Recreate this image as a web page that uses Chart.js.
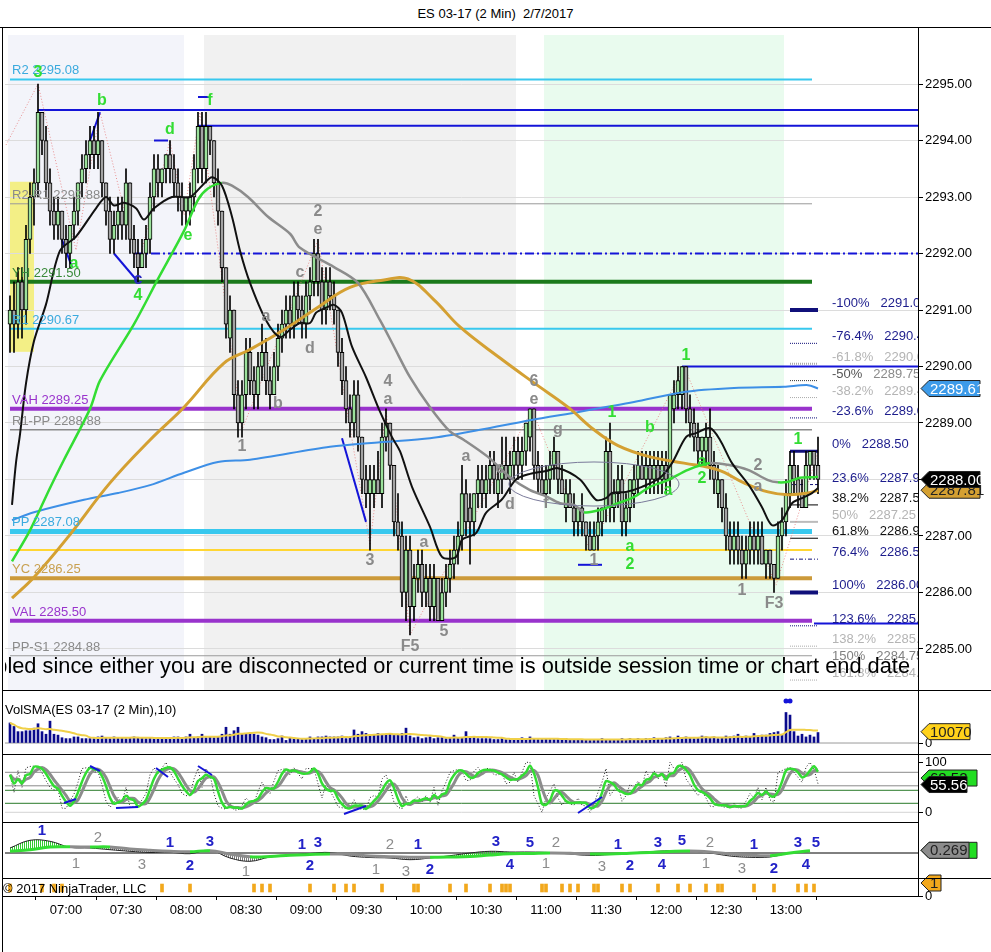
<!DOCTYPE html>
<html>
<head>
<meta charset="utf-8">
<title>ES 03-17 (2 Min) 2/7/2017</title>
<script src="https://cdn.jsdelivr.net/npm/chart.js@4.4.1/dist/chart.umd.min.js"></script>
<style>
  html, body { margin: 0; padding: 0; background: #fff; }
  body { position: relative; width: 991px; height: 952px; overflow: hidden; font-family: "Liberation Sans", Arial, sans-serif; }
  canvas { position: absolute; left: 0; }
  .rule { position: absolute; background: #000; }
  #title { position: absolute; top: 6px; left: 0; width: 991px; text-align: center; font-size: 13px; color: #000; }
</style>
</head>
<body>
<div id="title">ES 03-17 (2 Min)&nbsp;&nbsp;2/7/2017</div>
<canvas id="priceChart" width="991" height="663" style="top:28px"></canvas>
<canvas id="volChart" width="991" height="63" style="top:691px"></canvas>
<canvas id="stochChart" width="991" height="67" style="top:755px"></canvas>
<canvas id="macdChart" width="991" height="55" style="top:823px"></canvas>
<canvas id="tickChart" width="991" height="62" style="top:870px"></canvas>
<div class="rule" style="left:0;top:27px;width:991px;height:1px"></div>
<div class="rule" style="left:2px;top:27px;width:1px;height:925px"></div>
<div class="rule" style="left:918px;top:27px;width:1px;height:870px"></div>
<div class="rule" style="left:2px;top:690px;width:989px;height:1px"></div>
<div class="rule" style="left:2px;top:754px;width:989px;height:1px"></div>
<div class="rule" style="left:2px;top:822px;width:916px;height:1px"></div>
<div class="rule" style="left:2px;top:878px;width:989px;height:1px"></div>
<div class="rule" style="left:2px;top:896px;width:916px;height:1px"></div>
<script>
const FONT = '"Liberation Sans", Arial, sans-serif';
Chart.defaults.font.family = FONT;

const tm = s => { const [h, m] = s.split(':').map(Number); return h * 60 + m; };
const hhmm = v => String(Math.floor(v / 60)).padStart(2, '0') + ':' + String(Math.round(v % 60)).padStart(2, '0');

// ---- data ----
const firstBar = '06:32';
const barMinutes = 2;

// [open, high, low, close]
const ohlc = [
  [2290.75,2291.25,2290.25,2291.0],[2291.0,2291.5,2290.25,2290.75],[2290.75,2291.75,2290.5,2291.5],[2291.5,2291.75,2290.5,2291.0],
  [2291.0,2292.5,2290.75,2292.25],[2292.25,2293.25,2292.0,2293.0],[2293.0,2293.5,2292.5,2293.25],[2293.25,2295.0,2293.0,2294.5],
  [2294.5,2294.5,2293.75,2294.0],[2294.0,2294.25,2293.0,2293.25],[2293.25,2293.5,2292.5,2292.75],[2292.75,2293.0,2292.25,2292.5],
  [2292.5,2293.0,2292.25,2292.75],[2292.75,2292.75,2292.0,2292.25],[2292.25,2292.5,2291.75,2292.0],[2292.0,2292.5,2291.75,2292.5],
  [2292.5,2293.0,2292.25,2292.75],[2292.75,2293.25,2292.5,2293.25],[2293.25,2293.75,2293.0,2293.5],[2293.5,2294.0,2293.25,2293.75],
  [2293.75,2294.25,2293.5,2294.0],[2294.0,2294.25,2293.5,2293.75],[2293.75,2294.5,2293.5,2294.0],[2294.0,2294.0,2293.0,2293.25],
  [2293.25,2293.25,2292.5,2292.75],[2292.75,2293.0,2292.0,2292.25],[2292.25,2292.75,2292.0,2292.5],[2292.5,2293.0,2292.25,2292.75],
  [2292.75,2293.0,2292.25,2292.5],[2292.5,2293.5,2292.25,2293.25],[2293.25,2293.25,2292.0,2292.25],[2292.25,2292.5,2291.75,2292.0],
  [2292.0,2292.25,2291.5,2291.75],[2291.75,2292.25,2291.75,2292.0],[2292.0,2292.5,2291.75,2292.25],[2292.25,2293.25,2292.0,2293.0],
  [2293.0,2293.75,2292.75,2293.5],[2293.5,2293.75,2293.0,2293.25],[2293.25,2293.5,2293.0,2293.5],[2293.5,2293.75,2293.25,2293.75],
  [2293.75,2294.0,2293.25,2293.5],[2293.5,2293.75,2293.0,2293.25],[2293.25,2293.5,2292.75,2293.0],[2293.0,2293.25,2292.5,2292.75],
  [2292.75,2293.0,2292.5,2293.0],[2292.75,2293.25,2292.5,2293.0],[2293.0,2293.75,2292.75,2293.5],[2293.5,2294.5,2293.25,2294.25],
  [2294.25,2294.5,2293.25,2293.5],[2293.5,2294.5,2293.25,2294.25],[2294.25,2294.25,2293.75,2294.0],[2294.0,2294.0,2293.0,2293.25],
  [2293.25,2293.5,2292.5,2292.75],[2292.75,2292.75,2291.5,2291.75],[2291.75,2291.75,2290.5,2290.75],[2290.5,2291.25,2290.25,2291.0],
  [2291.0,2291.0,2289.25,2289.5],[2289.5,2289.75,2288.75,2289.0],[2289.0,2289.75,2288.75,2289.5],[2289.5,2290.5,2289.25,2290.25],
  [2290.25,2290.5,2289.5,2289.75],[2289.75,2290.0,2289.25,2289.5],[2289.5,2290.25,2289.25,2290.0],[2290.0,2290.75,2289.75,2290.25],
  [2290.25,2290.5,2289.5,2289.75],[2289.75,2290.0,2289.25,2289.5],[2289.5,2290.25,2289.5,2290.0],[2290.0,2290.75,2289.75,2290.5],
  [2290.5,2291.0,2290.25,2290.75],[2290.75,2291.25,2290.5,2291.0],[2291.0,2291.25,2290.5,2290.75],[2290.75,2291.5,2290.5,2291.25],
  [2291.25,2291.5,2290.75,2291.0],[2291.0,2291.25,2290.5,2290.75],[2290.75,2291.5,2290.5,2291.25],[2291.25,2291.75,2291.0,2291.5],
  [2291.5,2292.25,2291.25,2292.0],[2292.0,2292.25,2291.25,2291.5],[2291.5,2291.75,2290.75,2291.0],[2291.0,2291.75,2290.75,2291.5],
  [2291.5,2291.75,2291.0,2291.25],[2291.25,2291.5,2290.75,2291.0],[2291.0,2291.0,2290.0,2290.25],[2290.25,2290.5,2289.5,2289.75],
  [2289.75,2290.0,2289.0,2289.25],[2289.25,2289.5,2288.75,2289.0],[2289.0,2289.75,2288.75,2289.5],[2289.5,2289.75,2288.5,2288.75],
  [2288.75,2288.75,2287.75,2288.0],[2288.0,2288.25,2287.5,2287.75],[2287.75,2288.25,2286.75,2288.0],[2287.75,2288.25,2287.5,2288.0],
  [2288.0,2288.5,2287.75,2287.75],[2287.75,2289.0,2287.5,2288.75],[2288.75,2289.25,2288.5,2289.0],[2289.0,2289.0,2288.0,2288.25],
  [2288.25,2288.25,2287.0,2287.25],[2287.25,2287.75,2286.75,2287.0],[2287.0,2287.25,2285.75,2286.0],[2286.0,2287.0,2285.5,2286.75],
  [2286.75,2287.0,2285.25,2285.75],[2285.75,2286.5,2285.5,2286.25],[2286.25,2286.75,2286.0,2286.5],[2286.5,2286.75,2285.75,2286.0],
  [2286.0,2286.5,2285.75,2286.25],[2286.25,2286.5,2285.5,2285.75],[2285.75,2286.5,2285.5,2286.25],[2286.25,2286.25,2285.5,2285.5],
  [2285.5,2286.25,2285.5,2286.0],[2286.0,2286.5,2285.75,2286.25],[2286.25,2286.75,2286.0,2286.5],[2286.5,2287.0,2286.25,2286.75],
  [2286.75,2287.25,2286.5,2287.0],[2287.0,2288.25,2286.75,2287.75],[2287.75,2288.0,2287.0,2287.25],[2287.5,2287.75,2286.5,2287.25],
  [2287.25,2287.75,2287.0,2287.75],[2287.75,2288.25,2287.5,2288.0],[2288.0,2288.25,2287.5,2287.75],[2287.75,2288.25,2287.5,2288.0],
  [2288.0,2288.5,2287.75,2288.25],[2288.25,2288.5,2287.75,2288.0],[2287.75,2288.25,2287.5,2288.0],[2288.0,2288.75,2287.75,2288.25],
  [2288.25,2288.75,2288.0,2288.0],[2288.0,2288.5,2287.75,2288.25],[2288.25,2288.75,2288.0,2288.5],[2288.5,2288.75,2288.0,2288.25],
  [2288.25,2288.75,2288.0,2288.5],[2288.5,2289.0,2288.25,2289.0],[2288.75,2289.25,2288.5,2289.25],[2289.25,2289.25,2288.0,2288.25],
  [2288.25,2288.5,2287.75,2288.0],[2288.0,2288.25,2287.75,2287.75],[2287.75,2288.25,2287.5,2288.0],[2288.0,2288.5,2287.75,2288.25],
  [2288.25,2288.75,2288.0,2288.5],[2288.5,2288.5,2287.75,2288.0],[2288.0,2288.25,2287.75,2287.75],[2287.5,2288.0,2287.25,2287.75],
  [2287.75,2288.0,2287.5,2287.5],[2287.5,2287.75,2287.0,2287.25],[2287.25,2287.5,2287.0,2287.5],[2287.5,2287.75,2287.0,2287.25],
  [2287.25,2287.25,2286.75,2287.0],[2287.0,2287.25,2286.75,2286.75],[2286.75,2287.25,2286.75,2287.0],[2287.0,2287.5,2286.75,2287.25],
  [2287.25,2287.5,2287.0,2287.5],[2287.5,2288.75,2287.25,2288.5],[2288.5,2289.0,2287.25,2287.5],[2287.5,2288.0,2287.25,2287.75],
  [2287.75,2288.25,2287.5,2288.0],[2288.0,2288.25,2287.0,2287.25],[2287.25,2287.75,2287.0,2287.5],[2287.5,2288.0,2287.25,2288.0],
  [2287.75,2288.25,2287.5,2288.0],[2288.0,2288.5,2287.75,2288.25],[2288.25,2288.5,2288.0,2288.0],[2288.0,2288.5,2287.75,2288.25],
  [2288.25,2288.5,2287.75,2288.0],[2288.0,2288.5,2287.75,2288.25],[2288.25,2288.5,2287.75,2288.0],[2288.0,2288.5,2287.75,2288.25],
  [2288.25,2288.5,2287.75,2288.0],[2288.0,2289.5,2287.75,2289.5],[2289.25,2289.75,2289.0,2289.5],[2289.5,2290.0,2289.25,2289.75],
  [2289.5,2290.0,2289.25,2290.0],[2290.0,2290.0,2289.0,2289.25],[2289.25,2289.5,2288.75,2289.0],[2289.0,2289.25,2288.5,2288.75],
  [2288.75,2289.0,2288.25,2288.5],[2288.5,2288.75,2288.25,2288.75],[2288.5,2289.0,2288.25,2288.75],[2288.75,2289.25,2288.0,2288.25],
  [2288.25,2288.5,2287.75,2288.0],[2287.75,2288.25,2287.5,2288.0],[2288.0,2288.0,2287.25,2287.5],[2287.5,2287.75,2286.75,2287.0],
  [2287.0,2287.25,2286.5,2286.75],[2286.75,2287.25,2286.5,2287.0],[2287.0,2287.25,2286.5,2286.75],[2286.75,2287.0,2286.25,2286.5],
  [2286.5,2287.0,2286.25,2286.75],[2286.75,2287.25,2286.5,2287.0],[2287.0,2287.25,2286.5,2286.75],[2286.75,2287.25,2286.5,2287.0],
  [2287.0,2287.25,2286.5,2286.5],[2286.5,2286.75,2286.25,2286.75],[2286.75,2286.75,2286.25,2286.5],[2286.5,2286.5,2286.0,2286.25],
  [2286.25,2287.25,2286.25,2287.0],[2287.0,2287.5,2286.75,2287.25],[2287.25,2288.0,2287.0,2287.75],[2287.75,2288.5,2287.5,2288.25],
  [2288.25,2288.5,2287.75,2288.0],[2288.0,2288.25,2287.5,2287.75],[2287.75,2288.0,2287.5,2287.5],[2287.5,2288.5,2287.5,2288.25],
  [2288.25,2288.5,2288.0,2288.5],[2288.5,2288.5,2288.0,2288.25],[2288.25,2288.75,2287.75,2288.0]
];

const volume = [
  17800,14700,10100,10100,10900,10900,13200,17100,10100,7800,
  19400,7800,7000,4700,3900,3900,5400,5400,3900,3900,
  3900,3900,5400,6200,4700,3900,5400,4700,4700,3900,
  4700,5400,4700,4700,3900,4700,3900,3900,4700,4700,
  4700,5400,5400,3900,5400,7800,4700,5400,7800,4700,
  5400,4700,5400,7800,14000,7800,10900,14000,7800,7800,
  7800,7800,7000,5400,4700,3100,3100,3900,6200,2300,
  4700,3900,3900,3100,3900,5400,3900,5400,5400,6200,
  5400,5400,5400,6200,3900,5400,11600,7800,10100,8500,
  7000,7000,8500,7000,7000,7800,7000,7000,8500,13200,
  6200,4700,5400,3900,4700,5400,3900,4700,4700,3900,
  4700,7000,4700,4700,10100,5400,4700,3900,3900,3900,
  3900,3100,3100,3900,3100,3100,3900,3100,4700,3900,
  5400,3900,3100,3100,3900,3100,3100,3100,3100,3900,
  3100,3100,3100,3100,3100,2300,3100,3100,3900,3100,
  3100,3100,3100,3900,3100,3900,3100,3900,3100,3900,
  3900,4700,3900,3900,4700,5400,3900,6200,4700,5400,
  4700,3900,4700,6200,5400,4700,5400,3900,4700,6200,
  5400,6200,7800,4700,6200,5400,8500,6200,7000,7000,
  8500,9300,10100,7000,27100,24800,10100,6200,7800,5400,
  7000,5400,9300
];
const volSmaTag = 10070;
const volumeSpikeDots = [['13:00', 37200], ['13:02', 37200]];

// moving averages [time, price]
const fastMa = [['06:33',2287.55],['06:35',2288.3],['06:37',2288.8],['06:40',2289.7],['06:44',2290.45],['06:50',2291.1],['06:57',2292.05],['07:05',2292.3],['07:15',2292.8],['07:20',2293.0],['07:24',2292.85],['07:29',2292.9],['07:35',2292.8],['07:39',2292.6],['07:44',2292.8],['07:53',2293.0],['08:02',2293.0],['08:08',2293.2],['08:13',2293.35],['08:18',2293.2],['08:23',2292.65],['08:27',2292.05],['08:32',2291.48],['08:40',2290.82],['08:47',2290.52],['08:52',2290.65],['08:57',2290.77],['09:02',2290.77],['09:05',2290.95],['09:10',2291.04],['09:14',2291.09],['09:18',2290.95],['09:23',2290.35],['09:30',2289.81],['09:37',2289.2],['09:43',2288.75],['09:47',2288.5],['09:53',2287.87],['10:02',2287.16],['10:08',2286.63],['10:15',2286.63],['10:18',2286.93],['10:25',2287.05],['10:30',2287.41],['10:38',2287.65],['10:45',2288.0],['10:52',2288.1],['11:00',2288.15],['11:06',2288.2],['11:17',2288.0],['11:25',2287.64],['11:30',2287.67],['11:33',2287.76],['11:40',2287.78],['11:48',2287.87],['11:57',2288.03],['12:03',2288.29],['12:10',2288.75],['12:15',2288.82],['12:22',2288.91],['12:27',2288.7],['12:33',2288.29],['12:42',2287.87],['12:48',2287.51],['12:53',2287.19],['12:58',2287.28],['13:03',2287.58],['13:08',2287.67],['13:13',2287.76],['13:16',2287.85]];
const slopeMa = [['06:33',2286.55],['06:42',2287.1],['06:52',2287.85],['06:59',2288.35],['07:12',2289.25],['07:17',2289.75],['07:34',2290.75],['07:46',2291.55],['07:59',2292.4],['08:06',2292.95],['08:11',2293.15],['08:18',2293.25],['08:23',2293.2],['08:31',2293.0],['08:41',2292.65],['08:52',2292.35],['08:57',2292.1],['09:14',2291.76],['09:26',2291.48],['09:37',2290.82],['09:44',2290.35],['09:52',2289.81],['10:02',2289.28],['10:12',2288.85],['10:19',2288.7],['10:31',2288.4],['10:42',2288.04],['10:52',2287.81],['10:59',2287.72],['11:07',2287.58],['11:14',2287.55],['11:19',2287.42],['11:27',2287.46],['11:36',2287.58],['11:44',2287.69],['11:52',2287.87],['12:01',2287.99],['12:11',2288.17],['12:22',2288.29],['12:31',2288.26],['12:41',2288.17],['12:51',2287.99],['12:56',2287.95],['13:01',2287.96],['13:07',2288.03],['13:14',2288.04],['13:16',2288.05]];
const slowMa = [['06:33',2285.9],['06:44',2286.27],['07:01',2286.98],['07:22',2287.94],['07:42',2288.7],['07:59',2289.28],['08:19',2290.06],['08:32',2290.3],['08:49',2290.65],['09:06',2291.05],['09:22',2291.4],['09:39',2291.53],['09:51',2291.55],['10:04',2291.18],['10:17',2290.7],['10:37',2290.15],['10:54',2289.71],['11:11',2289.28],['11:24',2288.88],['11:36',2288.6],['11:52',2288.4],['12:09',2288.29],['12:26',2288.17],['12:39',2287.94],['12:51',2287.78],['13:01',2287.73],['13:11',2287.76],['13:16',2287.81]];
const vwapLine = [['06:33',2287.28],['06:44',2287.42],['07:09',2287.64],['07:26',2287.76],['07:42',2287.9],['07:59',2288.12],['08:16',2288.31],['08:32',2288.35],['09:12',2288.58],['09:37',2288.66],['10:02',2288.73],['10:27',2288.88],['10:52',2289.05],['11:17',2289.2],['11:44',2289.37],['12:09',2289.55],['12:34',2289.62],['12:59',2289.64],['13:11',2289.67],['13:16',2289.61]];

// pivot levels
const levelNames = ['R2', 'R2-R1', 'YH', 'R1', 'VAH', 'R1-PP', 'PP', 'YC', 'VAL', 'PP-S1'];
const levelValues = [2295.08, 2292.88, 2291.50, 2290.67, 2289.25, 2288.88, 2287.08, 2286.25, 2285.50, 2284.88];
const extraLevel = 2286.75;
const levelSpan = ['06:32', '13:13'];

// fibonacci ladder
const fibPercents = ['-100', '-76.4', '-61.8', '-50', '-38.2', '-23.6', '0', '23.6', '38.2', '50', '61.8', '76.4', '100', '123.6', '138.2', '150', '161.8'];
const fibPrices = [2291.00, 2290.41, 2290.05, 2289.75, 2289.45, 2289.09, 2288.50, 2287.91, 2287.55, 2287.25, 2286.96, 2286.59, 2286.00, 2285.41, 2285.05, 2284.75, 2284.45];

// swing lines and marks
const swingZigzag = [['06:30',2293.92],['06:46',2295.0],['07:05',2292.06],['07:17',2294.5],['07:36',2291.8],['07:52',2294.0],['07:59',2292.68],['08:07',2294.5],['08:28',2288.88],['09:06',2292.24],['09:32',2286.84],['09:40',2289.23],['09:52',2285.25],['10:53',2289.23],['11:22',2286.75],['12:09',2290.0],['12:55',2286.13],['13:16',2288.49]];
const blueRays = [['06:46', 2294.54], ['08:06', 2294.26], ['12:08', 2290.0], ['13:14', 2285.45]];
const blueDashRay = ['07:34', 2292.0];
const blueTicks = [[['07:12',2294.0],['07:17',2294.5]],[['07:44',2294.0],['07:51',2294.0]],[['08:06',2294.77],['08:12',2294.77]],[['06:58',2292.24],['07:03',2291.76]],[['07:24',2292.0],['07:36',2291.5]],[['09:18',2288.73],['09:30',2287.25]],[['11:16',2286.49],['11:28',2286.49]]];
const ellipse = { center: ['11:24', 2287.92], halfMinutes: 42.5, halfPoints: 0.39 };

const greenWaves = [['06:46',2295.21,'3'],['07:18',2294.70,'b'],['07:52',2294.19,'d'],['08:12',2294.70,'f'],['08:01',2292.31,'e'],['07:04',2291.83,'a'],['07:36',2291.25,'4'],['11:33',2289.19,'1'],['11:52',2288.91,'b'],['12:10',2290.19,'1'],['12:01',2287.81,'a'],['12:18',2288.31,'a'],['12:18',2288.01,'2'],['11:42',2286.81,'a'],['11:42',2286.49,'2'],['13:06',2288.70,'1']];
const grayWaves = [['09:06',2292.75,'2'],['09:06',2292.42,'e'],['08:57',2291.67,'c'],['08:40',2290.89,'a'],['09:02',2290.31,'d'],['08:46',2289.34,'b'],['08:28',2288.58,'1'],['09:41',2289.74,'4'],['09:41',2289.41,'a'],['09:32',2286.56,'3'],['09:59',2286.89,'a'],['09:52',2285.04,'F5'],['10:09',2285.30,'5'],['10:20',2288.40,'a'],['10:37',2288.19,'c'],['10:42',2287.55,'d'],['10:54',2289.74,'6'],['10:54',2289.41,'e'],['11:06',2288.88,'g'],['11:00',2287.58,'f'],['11:24',2286.56,'1'],['12:46',2288.24,'2'],['12:46',2287.88,'a'],['12:38',2286.04,'1'],['12:54',2285.80,'F3']];
const blueWaves = [['07:36',2291.53,'c']];

const sessionShades = [['06:31','07:59'], ['08:09','10:45'], ['10:59','12:59']];
const highlightBox = [['06:32', 2293.27], ['06:44', 2290.26]];

// oscillator panels
const stochLevels = [80, 53, 44, 18, 0];
const stochTags = [68.52, 55.56];
const stochBlueTicks = [[['06:59',18.6],['07:05',26.6]],[['07:25',8.6],['07:36',10.6]],[['07:12',92.6],['07:17',82.6]],[['07:45',88.6],['07:51',70.6]],[['08:06',92.6],['08:13',74.6]],[['09:19',-3.4],['09:30',12.6]],[['11:16',-1.4],['11:28',30.6]]];

const oscStart = '06:32', oscStep = 10;
const macdLine = [0.17,0.33,0.6,0.62,0.6,0.6,0.4,0.27,0.17,0.13,0.23,-0.1,-0.37,-0.35,-0.22,-0.15,-0.1,-0.12,-0.3,-0.37,-0.42,-0.43,-0.4,-0.35,-0.2,-0.08,-0.05,0,-0.03,-0.1,-0.1,-0.02,0.05,0.15,0.2,0.1,-0.1,-0.22,-0.27,0.0,0.22];
const signalLine = [0.5,1.27,1.17,0.57,0.5,0.33,0.17,0.05,0.07,-0.07,0.27,-0.5,-0.83,-0.4,-0.22,-0.05,0.05,-0.3,-0.45,-0.5,-0.67,-0.5,-0.27,0,0.17,0.1,0.1,0.05,-0.1,-0.25,-0.15,0,0.13,0.23,0.2,0,-0.3,-0.43,-0.4,0,0.15];
const macdTag = 0.269;
const blueCounts = [['06:48',2.2,'1'],['07:52',1.0,'1'],['08:02',-1.3,'2'],['08:12',1.1,'3'],['08:58',0.8,'1'],['09:06',1.0,'3'],['09:02',-1.3,'2'],['09:56',0.8,'1'],['10:02',-1.7,'2'],['10:35',1.1,'3'],['10:42',-1.2,'4'],['10:52',1.0,'5'],['11:36',0.8,'1'],['11:42',-1.3,'2'],['11:56',1.0,'3'],['11:58',-1.2,'4'],['12:08',1.2,'5'],['12:44',0.8,'1'],['12:54',-1.6,'2'],['13:06',1.0,'3'],['13:10',-1.2,'4'],['13:15',1.0,'5']];
const grayCounts = [['07:16',1.5,'2'],['07:05',-1.1,'1'],['07:38',-1.2,'3'],['08:30',-1.9,'1'],['09:42',0.8,'2'],['09:35',-1.7,'1'],['09:50',-1.9,'3'],['11:05',1.0,'2'],['11:00',-1.1,'1'],['11:28',-1.4,'3'],['12:22',1.0,'2'],['12:20',-1.1,'1'],['12:38',-1.6,'3']];

const signalTicks = ['06:32','06:48','06:54','06:58','07:48','08:02','08:34','08:38','08:42','09:02','09:14','09:20','09:24','09:38','09:54','09:56','10:12','10:20','10:32','10:38','10:40','10:42','10:58','11:00','11:08','11:12','11:16','11:24','11:26','11:38','11:42','11:56','12:06','12:12','12:20','12:26','12:28','12:44','12:54','13:06','13:10','13:14'];
const axisTimes = ['07:00','07:30','08:00','08:30','09:00','09:30','10:00','10:30','11:00','11:30','12:00','12:30','13:00'];

// ---- layout & styles ----
const viewStart = 389.5, viewEnd = 846;
const levelLineColors = ['#38c8ee', '#9a9a9a', '#1b7a1b', '#38c8ee', '#9933cc', '#8a8a8a', '#38c8ee', '#cc9a3a', '#9933cc', '#9a9a9a'];
const levelLineWidths = [2, 1, 4, 2, 4, 1.5, 5, 4, 4, 1];
const levelTextColors = ['#3aaade', '#8a8a8a', '#3a8a3a', '#3aaade', '#9933cc', '#8a8a8a', '#3aaade', '#c8a050', '#9933cc', '#8a8a8a'];
const fibLineColors = ['#10107a','#10107a','#aaaaaa','#333333','#aaaaaa','#10107a','#10107a','#10107a','#000000','#bbbbbb','#000000','#10107a','#10107a','#10107a','#aaaaaa','#aaaaaa','#aaaaaa'];
const fibLineWidths = [4,1,2,1,1,1,3,1,1,2,1,1,4,1,1,1,1];
const fibLineDash = [[],[1,1],[1,1],[1,1],[1,1],[1,1],[],[3,2],[],[],[],[4,2,1,2],[],[1,1],[1,1],[1,1],[1,1]];
const fibTextColors = ['#1c1c8c','#1c1c8c','#b4b4b4','#555555','#b4b4b4','#1c1c8c','#1c1c8c','#1c1c8c','#111111','#b4b4b4','#111111','#1c1c8c','#1c1c8c','#1c1c8c','#b4b4b4','#808080','#b4b4b4'];
const fibMarker = ['13:02', '13:16'];
const fibTextTime = 803;
const shadeColors = ['#f3f4fa', '#f1f1f1', '#e9fbee'];
const GREEN = '#33dd33', GRAY = '#8c8c8c';

const barTimes = ohlc.map((_, i) => tm(firstBar) + i * barMinutes);
const closes = ohlc.map(b => b[3]);
const pts = arr => arr.map(([t, v]) => ({ x: tm(t), y: v }));
const flat = (t0, t1, v) => [{ x: typeof t0 === 'string' ? tm(t0) : t0, y: v }, { x: typeof t1 === 'string' ? tm(t1) : t1, y: v }];

function sma(a, n) {
  return a.map((v, i) => {
    const s = Math.max(0, i - n + 1);
    let t = 0;
    for (let j = s; j <= i; j++) t += a[j];
    return t / (i - s + 1);
  });
}
function stochRaw(n) {
  return closes.map((c, i) => {
    const s = Math.max(0, i - n + 1);
    let hh = -Infinity, ll = Infinity;
    for (let j = s; j <= i; j++) { hh = Math.max(hh, ohlc[j][1]); ll = Math.min(ll, ohlc[j][2]); }
    return hh === ll ? 50 : (c - ll) / (hh - ll) * 100;
  });
}

// fixed-width right axis that does not steal space above/below the plot
const fitAxis = s => { s.width = 73; s.paddingTop = 0; s.paddingBottom = 0; };

function rightAxis(extra) {
  return Object.assign({
    position: 'right',
    afterFit: fitAxis,
    border: { color: '#000' },
    grid: { drawOnChartArea: false, tickLength: 5, tickColor: '#000' },
    ticks: { color: '#000', font: { size: 13 }, padding: 2 }
  }, extra);
}
function baseOptions(yAxis, padding) {
  return {
    responsive: false, animation: false, devicePixelRatio: 1, events: [],
    layout: { padding: Object.assign({ left: 5, right: 0, top: 0, bottom: 0 }, padding || {}) },
    plugins: { legend: { display: false }, tooltip: { enabled: false } },
    scales: {
      x: { type: 'linear', min: viewStart, max: viewEnd, display: false, offset: false },
      y: yAxis
    }
  };
}
function drawTag(ctx, y, text, bg, fg, width, x0) {
  x0 = x0 || 921;
  const h = 16, tip = 8;
  ctx.save();
  ctx.beginPath();
  ctx.moveTo(x0, y); ctx.lineTo(x0 + tip, y - h / 2); ctx.lineTo(x0 + width, y - h / 2);
  ctx.lineTo(x0 + width, y + h / 2); ctx.lineTo(x0 + tip, y + h / 2); ctx.closePath();
  ctx.fillStyle = bg; ctx.fill();
  ctx.strokeStyle = '#222'; ctx.lineWidth = 1; ctx.stroke();
  ctx.fillStyle = fg; ctx.font = '15px ' + FONT; ctx.textBaseline = 'middle'; ctx.textAlign = 'left';
  ctx.fillText(text, x0 + tip + 1, y + 1);
  ctx.restore();
}
function lineSet(data, color, width, order, extra) {
  return Object.assign({ type: 'line', data, borderColor: color, borderWidth: width, pointRadius: 0, fill: false, order, tension: 0 }, extra || {});
}

// ---- price panel ----
const priceDecor = {
  id: 'priceDecor',
  beforeDraw(chart) {
    const { ctx, chartArea: a, scales: { x, y } } = chart;
    ctx.save();
    sessionShades.forEach(([t0, t1], i) => {
      const x0 = Math.max(a.left + 3, x.getPixelForValue(tm(t0)));
      ctx.fillStyle = shadeColors[i];
      ctx.fillRect(x0, a.top + 5, x.getPixelForValue(tm(t1)) - x0, a.bottom - a.top - 5);
    });
    const [[bt0, bp0], [bt1, bp1]] = highlightBox;
    const bx = x.getPixelForValue(tm(bt0)), by = y.getPixelForValue(bp0);
    ctx.fillStyle = '#f3ef86';
    ctx.fillRect(bx, by, x.getPixelForValue(tm(bt1)) - bx, y.getPixelForValue(bp1) - by);
    ctx.restore();
  },
  afterDatasetsDraw(chart) {
    const { ctx, chartArea: a, scales: { x, y } } = chart;
    ctx.save();
    ctx.beginPath(); ctx.rect(a.left, a.top, a.right - a.left, a.bottom - a.top); ctx.clip();
    // pivot level captions
    ctx.font = '13px ' + FONT; ctx.textBaseline = 'alphabetic'; ctx.textAlign = 'left';
    levelNames.forEach((n, i) => {
      ctx.fillStyle = levelTextColors[i];
      ctx.fillText(n + ' ' + levelValues[i].toFixed(2), 12, y.getPixelForValue(levelValues[i]) - 5);
    });
    // ellipse
    const cx = x.getPixelForValue(tm(ellipse.center[0])), cy = y.getPixelForValue(ellipse.center[1]);
    const rx = Math.abs(x.getPixelForValue(tm(ellipse.center[0]) + ellipse.halfMinutes) - cx);
    const ry = Math.abs(y.getPixelForValue(ellipse.center[1] + ellipse.halfPoints) - cy);
    ctx.beginPath(); ctx.ellipse(cx, cy, rx, ry, 0, 0, Math.PI * 2);
    ctx.strokeStyle = '#7a7a9a'; ctx.lineWidth = 1; ctx.stroke();
    // wave labels
    ctx.font = 'bold 16px ' + FONT; ctx.textAlign = 'center'; ctx.textBaseline = 'middle';
    [[greenWaves, GREEN], [grayWaves, '#8a8a8a'], [blueWaves, '#2a2ac0']].forEach(([list, col]) => {
      ctx.fillStyle = col;
      list.forEach(([t, p, s]) => ctx.fillText(s, x.getPixelForValue(tm(t)), y.getPixelForValue(p)));
    });
    // fib ladder text
    ctx.font = '13px ' + FONT; ctx.textAlign = 'left'; ctx.textBaseline = 'alphabetic';
    const fx = x.getPixelForValue(fibTextTime);
    fibPercents.forEach((pc, i) => {
      const fy = y.getPixelForValue(fibPrices[i]) - 3;
      const s1 = pc + '%';
      ctx.fillStyle = fibTextColors[i];
      ctx.fillText(s1, fx, fy);
      if (i === 3) ctx.fillStyle = '#8a8a8a';
      ctx.fillText(fibPrices[i].toFixed(2), fx + ctx.measureText(s1).width + 11, fy);
    });
    // connection warning text
    ctx.fillStyle = '#000'; ctx.font = '21.8px ' + FONT; ctx.textAlign = 'right'; ctx.textBaseline = 'middle';
    ctx.fillText('Chart trading disabled since either you are disconnected or current time is outside session time or chart end date', 910, 639);
    ctx.restore();
  },
  afterDraw(chart) {
    const { ctx, scales: { y } } = chart;
    drawTag(ctx, y.getPixelForValue(vwapLine[vwapLine.length - 1][1]), vwapLine[vwapLine.length - 1][1].toFixed(2), '#3d9be9', '#fff', 59);
    drawTag(ctx, y.getPixelForValue(slowMa[slowMa.length - 1][1]), slowMa[slowMa.length - 1][1].toFixed(2), '#d4a032', '#222', 59);
    drawTag(ctx, y.getPixelForValue(closes[closes.length - 1]), closes[closes.length - 1].toFixed(2), '#000', '#fff', 59);
  }
};

const priceSets = [];
levelValues.forEach((v, i) => priceSets.push(lineSet(flat(levelSpan[0], levelSpan[1], v), levelLineColors[i], levelLineWidths[i], 60)));
priceSets.push(lineSet(flat(levelSpan[0], levelSpan[1], extraLevel), '#ffd633', 2, 60));
blueRays.forEach(([t, v]) => priceSets.push(lineSet(flat(t, viewEnd, v), '#1414d8', 2, 58)));
priceSets.push(lineSet(flat(blueDashRay[0], viewEnd, blueDashRay[1]), '#1414d8', 2, 58, { borderDash: [9, 3, 2, 3] }));
fibPrices.forEach((v, i) => priceSets.push(lineSet(flat(fibMarker[0], fibMarker[1], v), fibLineColors[i], fibLineWidths[i], 57, { borderDash: fibLineDash[i] })));
priceSets.push(lineSet(pts(swingZigzag), 'rgba(230,120,120,0.8)', 1, 55, { borderDash: [1, 2] }));
blueTicks.forEach(seg => priceSets.push(lineSet(pts(seg), '#1414d8', 2, 54)));
priceSets.push({
  type: 'bar', data: ohlc.map((b, i) => ({ x: barTimes[i], y: [b[2], b[1]] })),
  backgroundColor: '#000', barThickness: 1, grouped: false, order: 41
});
priceSets.push({
  type: 'bar', data: ohlc.map((b, i) => ({ x: barTimes[i], y: b[0] === b[3] ? [b[0] - 0.012, b[3] + 0.012] : [b[0], b[3]] })),
  backgroundColor: ohlc.map(b => b[3] >= b[0] ? '#9be19b' : '#a3a3a3'),
  borderColor: '#000', borderWidth: 1, borderSkipped: false, barThickness: 4, grouped: false, order: 40
});
priceSets.push(lineSet(pts(vwapLine), '#3d8fe6', 2, 30, { tension: 0.3 }));
priceSets.push(lineSet(pts(slowMa), '#d4a032', 3, 29, { tension: 0.4 }));
priceSets.push(lineSet(pts(slopeMa), GRAY, 2.5, 28, { tension: 0.3, segment: { borderColor: c => c.p1.parsed.y >= c.p0.parsed.y ? GREEN : GRAY } }));
priceSets.push(lineSet(pts(fastMa), '#111', 2, 27, { tension: 0.3 }));

new Chart(document.getElementById('priceChart'), {
  type: 'bar',
  data: { datasets: priceSets },
  options: baseOptions({
    position: 'right', min: 2284.274, max: 2295.956,
    afterFit: fitAxis,
    border: { color: '#000' },
    grid: { color: '#dcdcdc', tickLength: 5, tickColor: '#000' },
    ticks: { stepSize: 1, includeBounds: false, color: '#000', font: { size: 13 }, padding: 2, callback: v => v.toFixed(2) }
  }, { top: 2, bottom: 1 }),
  plugins: [priceDecor]
});

// ---- volume panel ----
const volSma = sma(volume, 10);
new Chart(document.getElementById('volChart'), {
  type: 'bar',
  data: {
    datasets: [
      lineSet(flat(viewStart, viewEnd, 0), '#9a9a9a', 1, 20),
      { type: 'bar', data: volume.map((v, i) => ({ x: barTimes[i], y: v })), backgroundColor: '#0a0a8c', barThickness: 2, grouped: false, order: 10 },
      lineSet(volSma.map((v, i) => ({ x: barTimes[i], y: v })), '#f0d048', 2, 5, { tension: 0.3 }),
      { type: 'scatter', data: pts(volumeSpikeDots), pointRadius: 2.5, pointBackgroundColor: '#1414d8', pointBorderWidth: 0, order: 4 }
    ]
  },
  options: baseOptions(rightAxis({
    min: -6200, max: 42625,
    afterBuildTicks: s => { s.ticks = [{ value: 0 }]; },
    ticks: { color: '#000', font: { size: 13 }, padding: 2, callback: () => '0' }
  })),
  plugins: [{
    id: 'volDecor',
    afterDraw(chart) {
      const { ctx, scales: { y } } = chart;
      ctx.save();
      ctx.fillStyle = '#000'; ctx.font = '13px ' + FONT; ctx.textBaseline = 'middle';
      ctx.fillText('VolSMA(ES 03-17 (2 Min),10)', 5, 19);
      ctx.restore();
      drawTag(ctx, y.getPixelForValue(volSmaTag), String(volSmaTag), '#ffd21a', '#222', 49);
    }
  }]
});

// ---- stochastic panel ----
const kRaw = stochRaw(9);
const kFast = sma(kRaw, 3);
const dSlow = sma(kFast, 3);
const stochSets = [];
const stochLevelColors = ['#8a8a8a', '#8a8a8a', '#2a7a2a', '#2a7a2a', '#d4d4d4'];
stochLevels.forEach((v, i) => stochSets.push(lineSet(flat(viewStart, viewEnd, v), stochLevelColors[i], 1, 30)));
stochSets.push(lineSet(kRaw.map((v, i) => ({ x: barTimes[i], y: v })), '#222', 1, 12, { borderDash: [1, 2] }));
stochSets.push(lineSet(dSlow.map((v, i) => ({ x: barTimes[i], y: v })), '#8c8c8c', 3, 11, { tension: 0.3 }));
stochSets.push(lineSet(kFast.map((v, i) => ({ x: barTimes[i], y: v })), GREEN, 2.5, 10, { tension: 0.3 }));
stochBlueTicks.forEach(seg => stochSets.push(lineSet(pts(seg), '#1414d8', 2, 5)));
new Chart(document.getElementById('stochChart'), {
  type: 'line',
  data: { datasets: stochSets },
  options: baseOptions(rightAxis({
    min: -19.4, max: 114.6,
    afterBuildTicks: s => { s.ticks = [{ value: 0 }, { value: 100 }]; },
    ticks: { color: '#000', font: { size: 13 }, padding: 2, callback: v => String(v) }
  })),
  plugins: [{
    id: 'stochTags',
    afterDraw(chart) {
      const { ctx, scales: { y } } = chart;
      drawTag(ctx, y.getPixelForValue(stochTags[0]), stochTags[0].toFixed(2), '#22dd22', '#111', 56);
      drawTag(ctx, y.getPixelForValue(stochTags[1]), stochTags[1].toFixed(2), '#000', '#fff', 46);
    }
  }]
});

// ---- macd-style panel ----
const macdCanvas = document.getElementById('macdChart');
function stripes(color) {
  const c = document.createElement('canvas');
  c.width = 2; c.height = 1;
  const g = c.getContext('2d');
  g.fillStyle = color; g.fillRect(0, 0, 1, 1);
  return macdCanvas.getContext('2d').createPattern(c, 'repeat');
}
const oscTimes = macdLine.map((_, i) => tm(oscStart) + oscStep * i);
new Chart(macdCanvas, {
  type: 'line',
  data: {
    datasets: [
      lineSet(macdLine.map((v, i) => ({ x: oscTimes[i], y: v })), GRAY, 3, 1, { tension: 0.4, segment: { borderColor: c => c.p1.parsed.y >= c.p0.parsed.y ? GREEN : GRAY } }),
      lineSet(signalLine.map((v, i) => ({ x: oscTimes[i], y: v })), '#222', 1, 2, { tension: 0.4, fill: { target: 0, above: stripes('#33cc33'), below: stripes('#7a7a7a') } }),
      lineSet(flat(viewStart, viewEnd, 0), '#000', 1, 3)
    ]
  },
  options: baseOptions(rightAxis({
    min: -2.5, max: 3.0,
    afterBuildTicks: s => { s.ticks = []; },
    grid: { drawOnChartArea: false, drawTicks: false }
  })),
  plugins: [{
    id: 'macdDecor',
    afterDatasetsDraw(chart) {
      const { ctx, scales: { x, y } } = chart;
      ctx.save();
      ctx.textAlign = 'center'; ctx.textBaseline = 'middle';
      ctx.font = 'bold 15px ' + FONT; ctx.fillStyle = '#2222c8';
      blueCounts.forEach(([t, v, s]) => ctx.fillText(s, x.getPixelForValue(tm(t)), y.getPixelForValue(v)));
      ctx.font = '15px ' + FONT; ctx.fillStyle = '#8c8c8c';
      grayCounts.forEach(([t, v, s]) => ctx.fillText(s, x.getPixelForValue(tm(t)), y.getPixelForValue(v)));
      ctx.restore();
    },
    afterDraw(chart) {
      const { ctx, scales: { y } } = chart;
      const ty = y.getPixelForValue(macdTag);
      drawTag(ctx, ty, '0.266', '#22dd22', '#111', 56);
      drawTag(ctx, ty, macdTag.toFixed(3), '#8c8c8c', '#222', 48);
    }
  }]
});

// ---- signal tick panel with time axis ----
new Chart(document.getElementById('tickChart'), {
  type: 'bar',
  data: {
    datasets: [{
      type: 'bar', data: signalTicks.map(t => ({ x: tm(t), y: [0.31, 0.92] })),
      backgroundColor: '#f2a81c', barThickness: 3, grouped: false
    }]
  },
  options: (() => {
    const o = baseOptions(rightAxis({
      min: 0, max: 1.308,
      afterBuildTicks: s => { s.ticks = [{ value: 0 }]; },
      ticks: { color: '#000', font: { size: 13 }, padding: 2, callback: () => '0' }
    }), { top: 9 });
    o.scales.x = {
      type: 'linear', min: viewStart, max: viewEnd, position: 'bottom', offset: false,
      afterFit: s => { s.height = 36; },
      afterBuildTicks: s => { s.ticks = axisTimes.map(t => ({ value: tm(t) })); },
      border: { color: '#000' },
      grid: { drawOnChartArea: false, tickLength: 4, tickColor: '#000' },
      ticks: { color: '#000', font: { size: 13 }, padding: 3, maxRotation: 0, autoSkip: false, callback: v => hhmm(v) }
    };
    return o;
  })(),
  plugins: [{
    id: 'tickDecor',
    afterDraw(chart) {
      const { ctx, scales: { y } } = chart;
      ctx.save();
      ctx.fillStyle = '#000'; ctx.font = '13px ' + FONT; ctx.textBaseline = 'middle'; ctx.textAlign = 'left';
      ctx.fillText('\u00a9 2017 NinjaTrader, LLC', 3, 19);
      ctx.restore();
      drawTag(ctx, y.getPixelForValue(1), '1', '#f2a81c', '#222', 20);
    }
  }]
});
</script>
</body>
</html>
